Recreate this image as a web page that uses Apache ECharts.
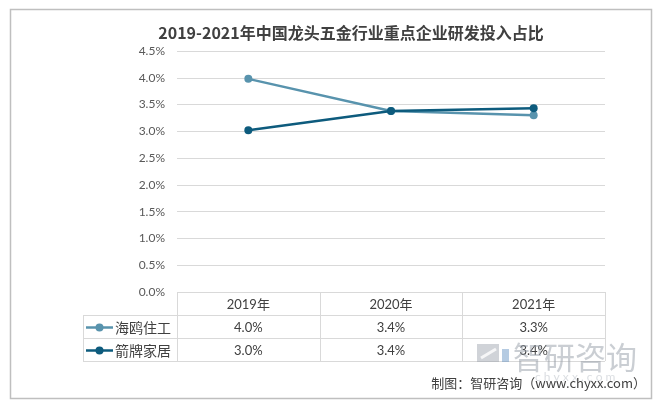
<!DOCTYPE html>
<html><head><meta charset="utf-8">
<script src="https://cdn.jsdelivr.net/npm/echarts@6/dist/echarts.min.js"></script>
<style>html,body{margin:0;padding:0;background:#fff}#c{width:660px;height:403px}</style>
</head><body><div id="c"></div>
<script>
const title = '2019-2021年中国龙头五金行业重点企业研发投入占比';
const categories = ['2019年', '2020年', '2021年'];
const seriesNames = ['海鸥住工', '箭牌家居'];
const haiouValues = [3.98, 3.38, 3.30];
const jianpaiValues = [3.02, 3.38, 3.43];
const seriesColors = ['#5893ad', '#0d5b7d'];
const yMin = 0, yMax = 4.5, yStep = 0.5;
const sourceText = '制图：智研咨询（www.chyxx.com）';
const watermarkText = '智研咨询';
const watermarkSub = 'c h y x x . c o m';

const FONT = 'Lato, "Noto Sans CJK SC", sans-serif';
const CJK = '"Noto Sans CJK SC", sans-serif';
const allValues = [haiouValues, jianpaiValues];

const GL = 177, GR = 55, GT = 51, GB = 111;
const W = 660, H = 403;

const chart = echarts.init(document.getElementById('c'), null, {renderer: 'canvas'});
chart.setOption({
  animation: false,
  backgroundColor: '#fff',
  title: {
    text: title, left: 346, textAlign: 'center', top: 20,
    textStyle: {fontFamily: CJK, fontWeight: 'bold', fontSize: 16, color: '#404040'}
  },
  grid: {left: GL, right: GR, top: GT, bottom: GB},
  xAxis: {
    type: 'category', data: categories, boundaryGap: true,
    axisLine: {show: false}, axisTick: {show: false}, axisLabel: {show: false}
  },
  yAxis: {
    type: 'value', min: yMin, max: yMax, interval: yStep,
    axisLine: {show: false}, axisTick: {show: false},
    axisLabel: {formatter: v => v.toFixed(1) + '%', color: '#595959', fontSize: 12, fontFamily: FONT, margin: 12},
    splitLine: {lineStyle: {color: '#d9d9d9', width: 1}}
  },
  series: seriesNames.map((n, i) => ({
    name: n, type: 'line', data: allValues[i],
    symbol: 'circle', symbolSize: 8,
    lineStyle: {color: seriesColors[i], width: 2.5},
    itemStyle: {color: seriesColors[i]}, z: 2 + i
  }))
});

function buildGraphics() {
  const g = [];
  const gridRight = W - GR;
  const colW = (gridRight - GL) / categories.length;
  const rowTop = H - GB;
  const rowH = 23;
  const legendLeft = 83;
  const lineColor = '#d9d9d9';
  // outer border
  g.push({type: 'rect', shape: {x: 10.5, y: 9.5, width: 641, height: 389},
    style: {fill: null, stroke: '#bfbfbf', lineWidth: 1.5}, silent: true, z: 1});
  // horizontal table lines
  g.push({type: 'line', shape: {x1: GL, y1: rowTop + 0.5, x2: gridRight, y2: rowTop + 0.5}, style: {stroke: lineColor, lineWidth: 1}});
  for (let r = 1; r <= seriesNames.length + 1; r++) {
    const y = Math.round(rowTop + r * rowH) + 0.5;
    g.push({type: 'line', shape: {x1: legendLeft, y1: y, x2: gridRight, y2: y}, style: {stroke: lineColor, lineWidth: 1}});
  }
  // vertical lines
  for (let c = 0; c <= categories.length; c++) {
    const x = Math.round(GL + c * colW) + 0.5;
    g.push({type: 'line', shape: {x1: x, y1: rowTop, x2: x, y2: rowTop + (seriesNames.length + 1) * rowH}, style: {stroke: lineColor, lineWidth: 1}});
  }
  g.push({type: 'line', shape: {x1: legendLeft + 0.5, y1: rowTop + rowH, x2: legendLeft + 0.5, y2: rowTop + (seriesNames.length + 1) * rowH}, style: {stroke: lineColor, lineWidth: 1}});
  // header
  categories.forEach((cat, i) => {
    const cx = chart.convertToPixel({xAxisIndex: 0}, cat);
    g.push({type: 'text', x: cx, y: rowTop + rowH / 2 + 1, style: {text: cat, fill: '#404040', font: '13px ' + FONT, textAlign: 'center', textVerticalAlign: 'middle'}});
  });
  // rows
  seriesNames.forEach((name, si) => {
    const cy = rowTop + (si + 1) * rowH + rowH / 2 + 1;
    g.push({type: 'line', shape: {x1: 86, y1: cy, x2: 113, y2: cy}, style: {stroke: seriesColors[si], lineWidth: 2.5}});
    g.push({type: 'circle', shape: {cx: 99.5, cy: cy, r: 4}, style: {fill: seriesColors[si]}});
    g.push({type: 'text', x: 115, y: cy, style: {text: name, fill: '#404040', font: '14px ' + CJK, textAlign: 'left', textVerticalAlign: 'middle'}});
    categories.forEach((cat, i) => {
      const cx = chart.convertToPixel({xAxisIndex: 0}, cat);
      g.push({type: 'text', x: cx, y: cy, style: {text: allValues[si][i].toFixed(1) + '%', fill: '#404040', font: '13px ' + FONT, textAlign: 'center', textVerticalAlign: 'middle'}});
    });
  });
  // watermark
  g.push({type: 'rect', shape: {x: 477, y: 344, width: 22, height: 18}, style: {fill: 'rgba(150,158,168,0.45)'}, z: 10});
  g.push({type: 'line', shape: {x1: 481, y1: 358, x2: 496, y2: 349}, style: {stroke: 'rgba(255,255,255,0.8)', lineWidth: 3}, z: 11});
  g.push({type: 'rect', shape: {x: 502, y: 349, width: 7, height: 13}, style: {fill: 'rgba(90,140,190,0.45)'}, z: 10});
  g.push({type: 'text', x: 513, y: 357, style: {text: watermarkText, fill: 'rgba(150,158,168,0.5)', font: '31px ' + CJK, textAlign: 'left', textVerticalAlign: 'middle'}, z: 10});
  g.push({type: 'text', x: 535, y: 377, style: {text: watermarkSub, fill: 'rgba(150,158,168,0.35)', font: '12px ' + FONT, textAlign: 'left', textVerticalAlign: 'middle'}, z: 10});
  // source
  g.push({type: 'text', x: 646, y: 383, style: {text: sourceText, fill: '#404040', font: '13px ' + CJK, textAlign: 'right', textVerticalAlign: 'middle'}, z: 12});
  chart.setOption({graphic: g.map(e => Object.assign({silent: true}, e))});
}
buildGraphics();
</script></body></html>
